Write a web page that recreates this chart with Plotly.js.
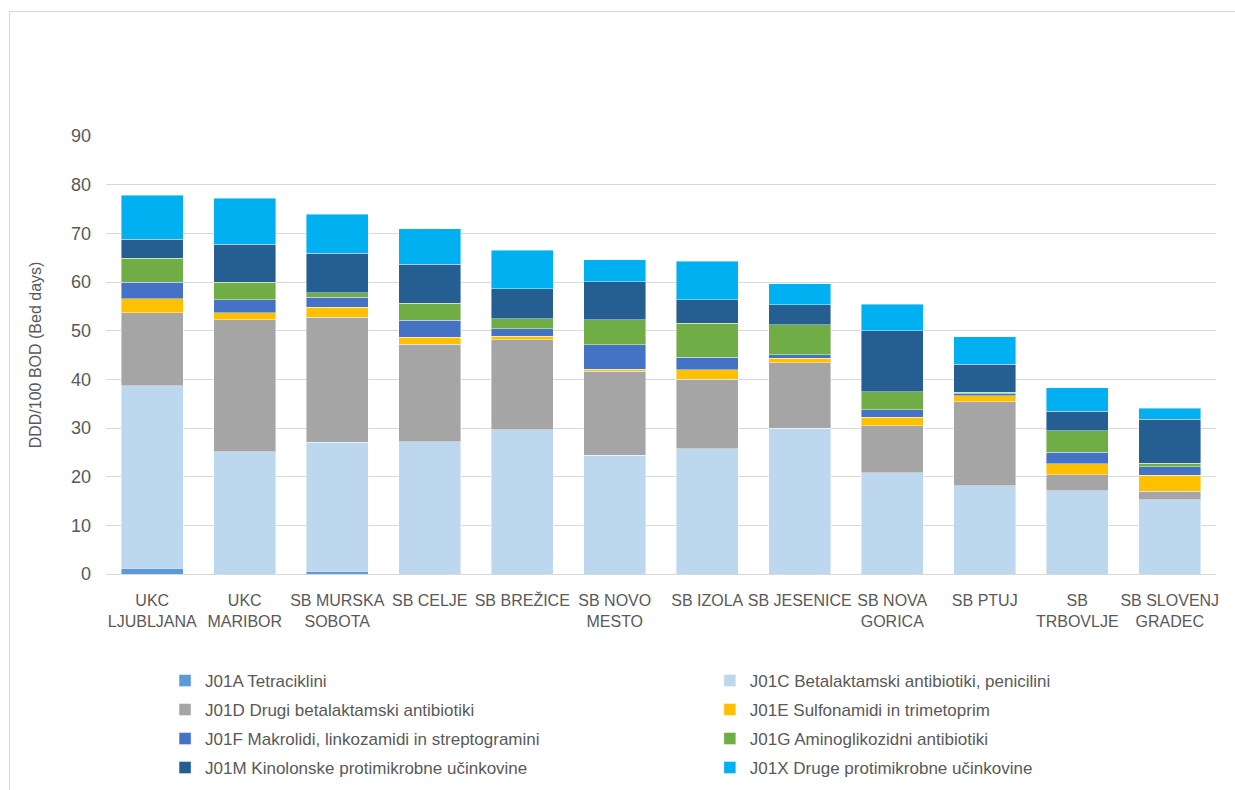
<!DOCTYPE html>
<html>
<head>
<meta charset="utf-8">
<script src="https://cdn.plot.ly/plotly-3.0.1.min.js"></script>
<style>
  html, body { margin: 0; padding: 0; background: #fff; }
  #wrap { position: relative; width: 1235px; height: 790px; overflow: hidden; }
  #chart { position: absolute; left: 0; top: 0; width: 1235px; height: 790px; }
  #frame { position: absolute; left: 9px; top: 11px; width: 1300px; height: 900px;
           border-left: 1px solid #d9d9d9; border-top: 1px solid #d9d9d9; pointer-events: none; }
</style>
</head>
<body>
<div id="wrap"><div id="chart"></div><div id="frame"></div></div>
<script>
const categories = [
  "UKC<br>LJUBLJANA", "UKC<br>MARIBOR", "SB MURSKA<br>SOBOTA", "SB CELJE", "SB BREŽICE",
  "SB NOVO<br>MESTO", "SB IZOLA", "SB JESENICE", "SB NOVA<br>GORICA", "SB PTUJ",
  "SB<br>TRBOVLJE", "SB SLOVENJ<br>GRADEC"
];

const seriesNames = [
  "J01A Tetraciklini",
  "J01C Betalaktamski antibiotiki, penicilini",
  "J01D Drugi betalaktamski antibiotiki",
  "J01E Sulfonamidi in trimetoprim",
  "J01F Makrolidi, linkozamidi in streptogramini",
  "J01G Aminoglikozidni antibiotiki",
  "J01M Kinolonske protimikrobne učinkovine",
  "J01X Druge protimikrobne učinkovine"
];

const j01A = [1.2, 0.0, 0.6, 0.0, 0.0, 0.0, 0.0, 0.0, 0.0, 0.0, 0.0, 0.0];
const j01C = [37.5, 25.1, 26.5, 27.2, 29.6, 24.4, 25.7, 30.0, 20.8, 18.1, 17.1, 15.3];
const j01D = [15.0, 27.1, 25.7, 20.0, 18.5, 17.3, 14.3, 13.4, 9.7, 17.3, 3.3, 1.7];
const j01E = [2.9, 1.5, 2.0, 1.4, 0.8, 0.4, 2.0, 0.9, 1.7, 1.2, 2.3, 3.3];
const j01F = [3.4, 2.7, 2.1, 3.5, 1.5, 5.0, 2.5, 0.8, 1.5, 0.4, 2.3, 1.7];
const j01G = [4.9, 3.5, 0.9, 3.5, 2.1, 5.1, 7.0, 6.1, 3.7, 0.3, 4.4, 0.8];
const j01M = [3.9, 7.9, 8.1, 8.0, 6.1, 7.9, 4.9, 4.1, 12.6, 5.8, 4.0, 9.0];
const j01X = [9.0, 9.4, 8.0, 7.3, 7.9, 4.5, 7.9, 4.3, 5.4, 5.6, 4.9, 2.3];

const yTicks = [0, 10, 20, 30, 40, 50, 60, 70, 80, 90];
const yTitle = "DDD/100 BOD (Bed days)";

const seriesValues = [j01A, j01C, j01D, j01E, j01F, j01G, j01M, j01X];
const colors = ["#5B9BD5", "#BDD7EE", "#A5A5A5", "#FFC000", "#4472C4", "#70AD47", "#255E91", "#00B0F0"];

const FONT = "Liberation Sans, Arial, sans-serif";
const legendIds = ["legend", "legend2", "legend3", "legend4", "legend5", "legend6", "legend7", "legend8"];

const traces = seriesValues.map((vals, i) => ({
  type: "bar",
  name: seriesNames[i],
  x: categories,
  y: vals,
  legend: legendIds[i],
  marker: { color: colors[i], line: { color: "rgba(255,255,255,0.7)", width: 0.6 } },
  hoverinfo: "skip"
}));

// legend placement: two columns, four rows
const colX = [0.0532, 0.544];
const rowY = [-0.2443, -0.3105, -0.3767, -0.4429];

const layout = {
  width: 1235,
  height: 790,
  margin: { l: 106, r: 19, t: 136, b: 216, autoexpand: false },
  paper_bgcolor: "rgba(0,0,0,0)",
  plot_bgcolor: "#ffffff",
  barmode: "stack",
  bargap: 0.33,
  font: { family: FONT, color: "#595959", size: 16 },
  showlegend: true,
  xaxis: {
    type: "category",
    tickfont: { family: FONT, size: 16, color: "#595959" },
    tickangle: 0,
    automargin: false,
    showgrid: false,
    showline: true,
    linecolor: "#d9d9d9",
    linewidth: 1,
    ticks: "",
    ticklabelstandoff: 12,
    fixedrange: true
  },
  yaxis: {
    range: [0, 90],
    tickvals: yTicks,
    tickfont: { family: FONT, size: 18, color: "#595959" },
    automargin: false,
    showgrid: true,
    gridcolor: "#d9d9d9",
    gridwidth: 1,
    zeroline: true,
    zerolinecolor: "#d9d9d9",
    zerolinewidth: 1,
    showline: false,
    ticks: "",
    ticklabelstandoff: 14,
    title: { text: yTitle, font: { family: FONT, size: 16, color: "#595959" }, standoff: 25 },
    fixedrange: true
  }
};

legendIds.forEach((id, i) => {
  layout[id] = {
    orientation: "v",
    x: colX[i % 2],
    y: rowY[Math.floor(i / 2)],
    xanchor: "left",
    yanchor: "middle",
    bgcolor: "rgba(0,0,0,0)",
    borderwidth: 0,
    font: { family: FONT, size: 17, color: "#595959" }
  };
});

Plotly.newPlot("chart", traces, layout, { displayModeBar: false, staticPlot: true });
</script>
</body>
</html>
